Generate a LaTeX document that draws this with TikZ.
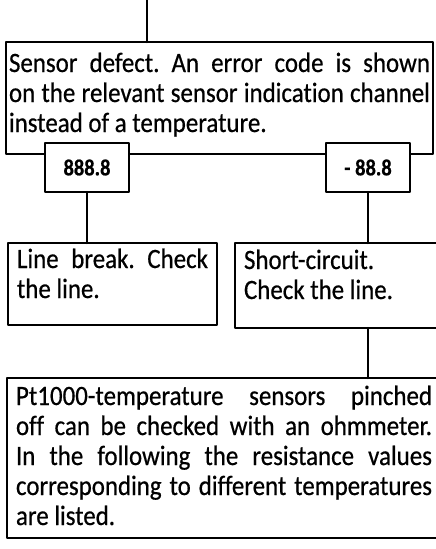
\documentclass[tikz,border=0pt]{standalone}
\usepackage{fontspec}
\setmainfont{Carlito}[FakeStretch=0.89, FakeBold=0.6, Ligatures=CommonOff]
\frenchspacing
\begin{document}
\begin{tikzpicture}[x=1pt, y=-1pt, line cap=round, line join=round]
\tikzset{box/.style={draw, line width=2.5pt, fill=white, outer sep=0pt, inner ysep=0pt,
    align=justify, font=\fontsize{28}{30}\selectfont},
  code/.style={draw, line width=2.5pt, fill=white, outer sep=0pt, inner sep=0pt,
    minimum width=84, minimum height=49, font=\fontsize{23}{24}\selectfont\bfseries},
  link/.style={line width=2.5pt}}

\useasboundingbox (0,0) rectangle (436,549);
\clip (0,0) rectangle (436,549);

% boxes (px)
\coordinate (top) at (147,0);
\node[box, anchor=north west, text width=421, inner xsep=3, text height=30, text depth=82]
  (sensor) at (6,42) {Sensor defect. An error code is shown\linebreak
  on the relevant sensor indication channel\linebreak instead of a temperature.};
\node[code] (b888) at (87,167.5) {888.8};
\node[code] (b88) at (368,167.5) {- 88.8};
\node[box, anchor=north west, text width=191, inner xsep=9, text height=25, text depth=57]
  (brk) at (8,243) {Line break. Check\linebreak the line.};
\node[box, anchor=north west, text width=192, inner xsep=9, text height=26, text depth=59]
  (shrt) at (235,243) {Short-circuit.\\Check the line.};
\node[box, anchor=north west, text width=416, inner xsep=9, text height=27, text depth=133]
  (pt) at (7,378) {Pt1000-temperature sensors pinched\linebreak
  off can be checked with an ohmmeter.\linebreak
  In the following the resistance values\linebreak
  corresponding to different temperatures\linebreak are listed.};

% links
\draw[link] (top) -- (top |- sensor.north);
\draw[link] (b888.south) -- (b888.south |- brk.north);
\draw[link] (b88.south) -- (b88.south |- shrt.north);
\draw[link] (b88.south |- shrt.south) -- (b88.south |- pt.north);
\end{tikzpicture}
\end{document}
